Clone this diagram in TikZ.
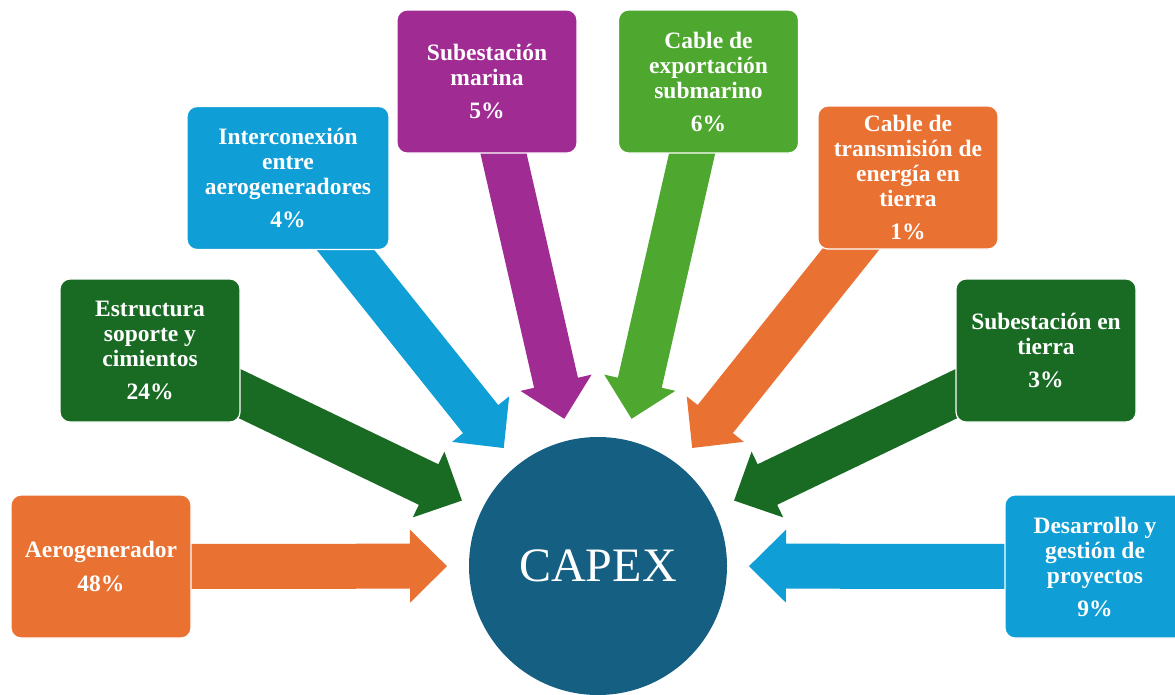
\documentclass[tikz,border=0pt]{standalone}
\usepackage{fontspec}
\setmainfont{Liberation Serif}
\usetikzlibrary{calc,backgrounds}

\definecolor{cOrange}{HTML}{E97132}
\definecolor{cDarkGreen}{HTML}{196B24}
\definecolor{cBlue}{HTML}{0F9ED5}
\definecolor{cPurple}{HTML}{A02B93}
\definecolor{cLightGreen}{HTML}{4EA72E}
\definecolor{cHub}{HTML}{156082}

\tikzset{
  costbox/.style={rectangle, rounded corners=10pt, draw=white, line width=1.2pt,
    minimum width=180pt, minimum height=143pt, inner sep=0pt, align=center,
    text=white, font=\fontsize{23.5}{25}\bfseries\selectfont},
  hub/.style={circle, minimum size=258pt, inner sep=0pt, fill=cHub,
    text=white, font=\fontsize{48}{48}\selectfont},
}

% Block arrow: #1 colour, #2 tail (box centre), #3 tip coordinate
\newcommand\fatarrow[3]{%
  \coordinate (#3-base) at ($(#3)!37pt!(#2)$);
  \fill[#1] ($(#2)!22.5pt!90:(#3)$) -- ($(#3-base)!22.5pt!90:(#3)$)
    -- ($(#3-base)!36.5pt!90:(#3)$) -- (#3)
    -- ($(#3-base)!36.5pt!-90:(#3)$) -- ($(#3-base)!22.5pt!-90:(#3)$)
    -- ($(#2)!22.5pt!-90:(#3)$) -- cycle;
}

\begin{document}
\begin{tikzpicture}[x=1pt,y=-1pt]
  \useasboundingbox (0,0) rectangle (1175,694);
  \clip (0,0) rectangle (1175,694);

  % central hub
  \node[hub] (capex) at (598,566) {CAPEX};

  % cost components
  \node[costbox, fill=cOrange] (b1) at (101,566.5) {Aerogenerador\\[9pt]48\%};
  \node[costbox, fill=cDarkGreen] (b2) at (150,350.5) {Estructura\\soporte y\\cimientos\\[8pt]24\%};
  \node[costbox, fill=cBlue, minimum width=202pt] (b3) at (288,178) {Interconexión\\entre\\aerogeneradores\\[8pt]4\%};
  \node[costbox, fill=cPurple] (b4) at (487,81.5) {Subestación\\marina\\[8pt]5\%};
  \node[costbox, fill=cLightGreen] (b5) at (708.5,81.5) {Cable de\\exportación\\submarino\\[8pt]6\%};
  \node[costbox, fill=cOrange] (b6) at (908,177.5) {Cable de\\transmisión de\\energía en\\tierra\\[8pt]1\%};
  \node[costbox, fill=cDarkGreen] (b7) at (1046,350.5) {Subestación en\\tierra\\[8pt]3\%};
  \node[costbox, fill=cBlue] (b8) at (1095,566.5) {Desarrollo y\\gestión de\\proyectos\\[8pt]9\%};

  % arrow tips on a ring around the hub
  \foreach \i in {1,...,8}
    \coordinate (t\i) at ($(capex.center)!151pt!(b\i.center)$);

  \begin{scope}[on background layer]
    \fatarrow{cOrange}{b1.center}{t1}
    \fatarrow{cDarkGreen}{b2.center}{t2}
    \fatarrow{cBlue}{b3.center}{t3}
    \fatarrow{cPurple}{b4.center}{t4}
    \fatarrow{cLightGreen}{b5.center}{t5}
    \fatarrow{cOrange}{b6.center}{t6}
    \fatarrow{cDarkGreen}{b7.center}{t7}
    \fatarrow{cBlue}{b8.center}{t8}
  \end{scope}
\end{tikzpicture}
\end{document}
